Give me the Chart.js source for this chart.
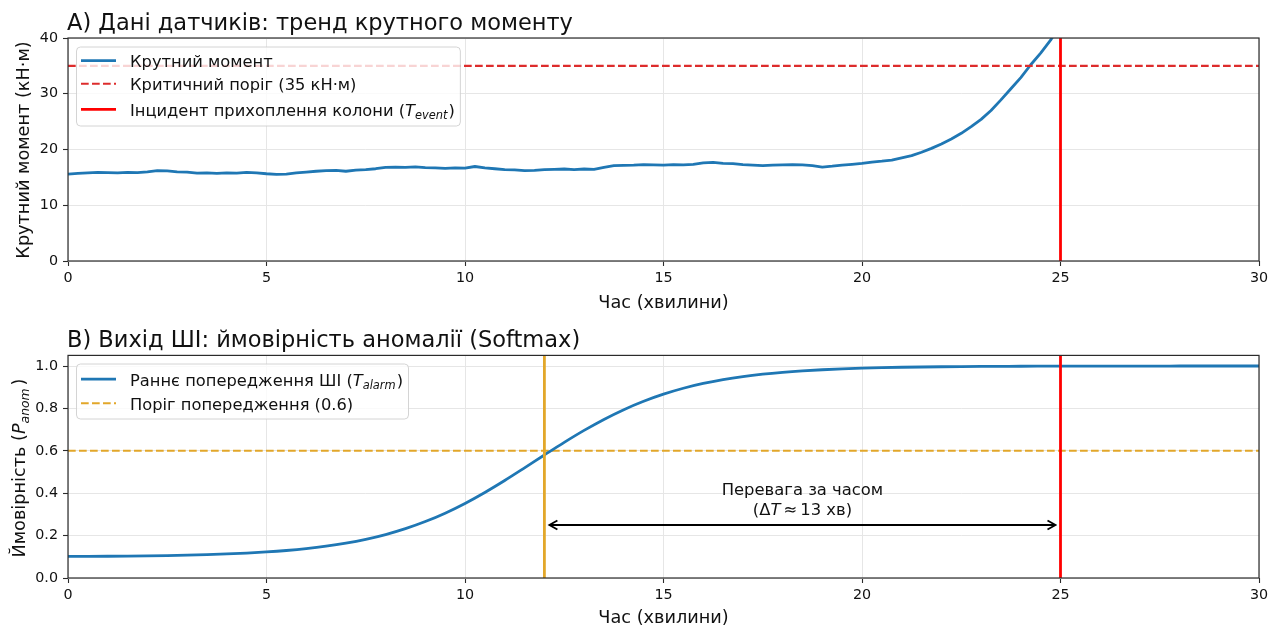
<!DOCTYPE html>
<html lang="uk">
<head>
<meta charset="utf-8">
<title>Крутний момент і ймовірність аномалії</title>
<script src="https://cdn.jsdelivr.net/npm/chart.js@4.4.1/dist/chart.umd.min.js"></script>
<style>
  html, body { margin: 0; padding: 0; background: #fff; }
  #page { position: relative; width: 1281px; height: 628px; overflow: hidden; background: #fff; }
  #page canvas { position: absolute; left: 0; }
</style>
</head>
<body>
<div id="page">
  <canvas id="torqueChart" width="1281" height="314" style="top:0"></canvas>
  <canvas id="probChart" width="1281" height="314" style="top:314px"></canvas>
</div>
<script>
// ---------- data ----------
const torqueTime = [
  0, 0.25, 0.5, 0.75, 1, 1.25, 1.5, 1.75, 2, 2.25, 2.5, 2.75, 3, 3.25, 3.5, 3.75, 4, 4.25, 4.5, 4.75,
  5, 5.25, 5.5, 5.75, 6, 6.25, 6.5, 6.75, 7, 7.25, 7.5, 7.75, 8, 8.25, 8.5, 8.75, 9, 9.25, 9.5, 9.75,
  10, 10.25, 10.5, 10.75, 11, 11.25, 11.5, 11.75, 12, 12.25, 12.5, 12.75, 13, 13.25, 13.5, 13.75, 14, 14.25, 14.5, 14.75,
  15, 15.25, 15.5, 15.75, 16, 16.25, 16.5, 16.75, 17, 17.25, 17.5, 17.75, 18, 18.25, 18.5, 18.75, 19, 19.25, 19.5, 19.75,
  20, 20.25, 20.5, 20.75, 21, 21.25, 21.5, 21.75, 22, 22.25, 22.5, 22.75, 23, 23.25, 23.5, 23.75, 24, 24.25, 24.5, 24.75, 25
];
const torqueValues = [
  15.6, 15.7, 15.8, 15.9, 15.85, 15.8, 15.9, 15.85, 16.0, 16.2, 16.15, 16.0, 15.95, 15.75, 15.8, 15.7, 15.8, 15.75, 15.9, 15.8,
  15.65, 15.55, 15.6, 15.8, 15.95, 16.1, 16.2, 16.25, 16.1, 16.3, 16.4, 16.55, 16.8, 16.85, 16.8, 16.9, 16.75, 16.7, 16.6, 16.7,
  16.65, 16.95, 16.7, 16.55, 16.4, 16.35, 16.2, 16.25, 16.4, 16.45, 16.5, 16.4, 16.5, 16.45, 16.8, 17.1, 17.15, 17.2, 17.3, 17.25,
  17.2, 17.3, 17.25, 17.35, 17.6, 17.7, 17.5, 17.45, 17.3, 17.2, 17.1, 17.2, 17.25, 17.3, 17.25, 17.1, 16.85, 17.0, 17.2, 17.35,
  17.5, 17.75, 17.9, 18.1, 18.5, 18.9, 19.5, 20.2, 21.0, 21.9, 22.9, 24.1, 25.4, 27.0, 28.9, 30.9, 32.9, 35.2, 37.3, 39.6, 42.5
];
const probTime = [
  0, 0.5, 1, 1.5, 2, 2.5, 3, 3.5, 4, 4.5, 5, 5.5, 6, 6.5, 7, 7.5, 8, 8.5, 9, 9.5,
  10, 10.5, 11, 11.5, 12, 12.5, 13, 13.5, 14, 14.5, 15, 15.5, 16, 16.5, 17, 17.5, 18, 18.5, 19, 19.5,
  20, 20.5, 21, 21.5, 22, 22.5, 23, 23.5, 24, 24.5, 25, 25.5, 26, 26.5, 27, 27.5, 28, 28.5, 29, 29.5, 30
];
const probValues = [
  0.1016, 0.1021, 0.1027, 0.1035, 0.1046, 0.1060, 0.1079, 0.1103, 0.1135, 0.1176, 0.1229, 0.1298, 0.1386, 0.1499, 0.1643, 0.1824, 0.2049, 0.2327, 0.2662, 0.3059,
  0.3519, 0.4037, 0.4601, 0.5197, 0.5803, 0.6399, 0.6963, 0.7481, 0.7941, 0.8338, 0.8673, 0.8951, 0.9176, 0.9357, 0.9501, 0.9614, 0.9702, 0.9771, 0.9824, 0.9865,
  0.9897, 0.9921, 0.9940, 0.9954, 0.9965, 0.9973, 0.9979, 0.9984, 0.9988, 0.9991, 0.9993, 0.9995, 0.9996, 0.9997, 0.9998, 0.9998, 0.9999, 0.9999, 0.9999, 0.9999, 1.0
];
const timeTicks = [0, 5, 10, 15, 20, 25, 30];
const torqueTicks = [0, 10, 20, 30, 40];
const probTicks = [0, 0.2, 0.4, 0.6, 0.8, 1.0];
const timeRange = [0, 30];
const torqueRange = [0, 40];
const probRange = [0, 1.05];
const criticalTorque = 35;
const eventTime = 25;
const alarmTime = 12;
const alarmThreshold = 0.6;
const leadMinutes = eventTime - alarmTime;
const leadArrowY = 0.25;
const leadLabelAt = { x: 18.5, y: 0.37 };

// ---------- styling ----------
const FONT = '"DejaVu Sans", "Liberation Sans", Arial, sans-serif';
const BLUE = '#1f77b4';
const RED = '#ff0000';
const RED_DASH = '#dd2c2c';
const GOLD = '#e2a72a';
const GRID = '#e6e6e6';
const SPINE = '#2b2b2b';
const INK = '#111111';
const TITLE_SIZE = 22.5;
const LABEL_SIZE = 17.7;
const LEGEND_SIZE = 16.3;
const TICK_SIZE = 14.3;
const NOTE_SIZE = 16.4;

const xy = (xs, ys) => xs.map((x, i) => ({ x: x, y: ys[i] }));

function setFont(ctx, size, italic) {
  ctx.font = (italic ? 'italic ' : '') + size + 'px ' + FONT;
}
// text runs with optional italic / subscript pieces
function richWidth(ctx, parts, size) {
  let w = 0;
  for (const p of parts) {
    setFont(ctx, p.sub ? size * 0.7 : size, p.it);
    w += ctx.measureText(p.t).width + (p.padL || 0) + (p.padR || 0);
  }
  return w;
}
function drawRich(ctx, parts, x, baseline, size) {
  let cx = x;
  ctx.textAlign = 'left';
  ctx.textBaseline = 'alphabetic';
  for (const p of parts) {
    setFont(ctx, p.sub ? size * 0.7 : size, p.it);
    cx += p.padL || 0;
    ctx.fillText(p.t, cx, baseline + (p.sub ? size * 0.22 : 0));
    cx += ctx.measureText(p.t).width + (p.padR || 0);
  }
  return cx - x;
}

function xScale(boxHeight) {
  return {
    type: 'linear', position: 'bottom', min: timeRange[0], max: timeRange[1],
    afterBuildTicks: s => { s.ticks = timeTicks.map(v => ({ value: v })); },
    afterFit: s => { s.height = boxHeight; },
    grid: { color: GRID, lineWidth: 1, drawTicks: true, tickLength: 5, tickColor: SPINE, tickWidth: 1.1 },
    border: { display: false },
    ticks: { color: INK, padding: 4, maxRotation: 0, autoSkip: false, font: { family: FONT, size: TICK_SIZE }, callback: v => String(v) }
  };
}
function yScale(range, tickValues, fmt) {
  return {
    type: 'linear', position: 'left', min: range[0], max: range[1],
    afterBuildTicks: s => { s.ticks = tickValues.map(v => ({ value: v })); },
    afterFit: s => { s.width = 68; },
    grid: { color: GRID, lineWidth: 1, drawTicks: true, tickLength: 5, tickColor: SPINE, tickWidth: 1.1 },
    border: { display: false },
    ticks: { color: INK, padding: 5, autoSkip: false, font: { family: FONT, size: TICK_SIZE }, callback: fmt }
  };
}

function drawLegend(chart, lg) {
  const ctx = chart.ctx;
  let maxW = 0;
  lg.items.forEach(it => { maxW = Math.max(maxW, richWidth(ctx, it.parts, LEGEND_SIZE)); });
  const w = lg.textX + maxW + 5.5 - lg.x;
  ctx.beginPath();
  ctx.roundRect(lg.x, lg.y, w, lg.h, 4);
  ctx.fillStyle = 'rgba(255,255,255,0.8)';
  ctx.fill();
  ctx.strokeStyle = 'rgba(204,204,204,0.85)';
  ctx.lineWidth = 1;
  ctx.stroke();
  lg.items.forEach((it, i) => {
    const ds = chart.data.datasets[it.dataset];
    const y = lg.rows[i];
    ctx.beginPath();
    ctx.setLineDash(ds.borderDash || []);
    ctx.strokeStyle = ds.borderColor;
    ctx.lineWidth = ds.borderWidth;
    ctx.moveTo(lg.handleX0, y);
    ctx.lineTo(lg.handleX1, y);
    ctx.stroke();
    ctx.setLineDash([]);
    ctx.fillStyle = INK;
    drawRich(ctx, it.parts, lg.textX, y + 6.5, LEGEND_SIZE);
  });
}

function panelDecor(opts) {
  return {
    id: 'panelDecor',
    afterDraw(chart) {
      const ctx = chart.ctx;
      const a = chart.chartArea;
      ctx.save();
      if (opts.annotate) opts.annotate(chart);
      // frame
      ctx.strokeStyle = SPINE;
      ctx.lineWidth = 1.2;
      ctx.strokeRect(a.left, a.top, a.right - a.left, a.bottom - a.top);
      ctx.fillStyle = INK;
      // panel title
      drawRich(ctx, opts.title, a.left - 1, a.top - 8.3, TITLE_SIZE);
      // x axis title
      const xw = richWidth(ctx, opts.xLabel, LABEL_SIZE);
      drawRich(ctx, opts.xLabel, (a.left + a.right) / 2 - xw / 2, opts.xLabelBaseline, LABEL_SIZE);
      // y axis title
      const yw = richWidth(ctx, opts.yLabel, LABEL_SIZE);
      ctx.save();
      ctx.translate(opts.yLabelX, opts.yLabelCenter);
      ctx.rotate(-Math.PI / 2);
      drawRich(ctx, opts.yLabel, -yw / 2, 6.4, LABEL_SIZE);
      ctx.restore();
      drawLegend(chart, opts.legend);
      ctx.restore();
    }
  };
}

const baseOptions = (padTop, xBox, yRange, yTicks, yFmt) => ({
  responsive: false,
  animation: false,
  devicePixelRatio: 1,
  events: [],
  layout: { padding: { left: 0, right: 22, top: padTop, bottom: 0 } },
  plugins: { legend: { display: false }, tooltip: { enabled: false }, title: { display: false } },
  elements: { point: { radius: 0 }, line: { borderCapStyle: 'butt', borderJoinStyle: 'round' } },
  scales: { x: xScale(xBox), y: yScale(yRange, yTicks, yFmt) }
});

// ---------- A) torque trend ----------
new Chart(document.getElementById('torqueChart'), {
  type: 'line',
  data: {
    datasets: [
      { label: 'Крутний момент', data: xy(torqueTime, torqueValues), borderColor: BLUE, borderWidth: 2.8, tension: 0, order: 3, clip: 0 },
      { label: 'Критичний поріг (' + criticalTorque + ' кН·м)', data: xy(timeRange, [criticalTorque, criticalTorque]), borderColor: RED_DASH, borderWidth: 2.1, borderDash: [7.7, 3.3], order: 2, clip: 0 },
      { label: 'Інцидент прихоплення колони', data: xy([eventTime, eventTime], torqueRange), borderColor: RED, borderWidth: 2.8, order: 1, clip: 0 }
    ]
  },
  options: baseOptions(38, 53, torqueRange, torqueTicks, v => String(v)),
  plugins: [panelDecor({
    title: [{ t: 'A) Дані датчиків: тренд крутного моменту' }],
    xLabel: [{ t: 'Час (хвилини)' }],
    xLabelBaseline: 308.2,
    yLabel: [{ t: 'Крутний момент (кН·м)' }],
    yLabelX: 22.5,
    yLabelCenter: 150,
    legend: {
      x: 76.5, y: 47, h: 79, handleX0: 81, handleX1: 116, textX: 130,
      rows: [60.7, 83.7, 109.3],
      items: [
        { dataset: 0, parts: [{ t: 'Крутний момент' }] },
        { dataset: 1, parts: [{ t: 'Критичний поріг (' + criticalTorque + ' кН·м)' }] },
        { dataset: 2, parts: [{ t: 'Інцидент прихоплення колони (' }, { t: 'T', it: true }, { t: 'event', it: true, sub: true }, { t: ')', padL: 1 }] }
      ]
    }
  })]
});

// ---------- B) model output ----------
new Chart(document.getElementById('probChart'), {
  type: 'line',
  data: {
    datasets: [
      { label: 'Раннє попередження ШІ', data: xy(probTime, probValues), borderColor: BLUE, borderWidth: 2.8, cubicInterpolationMode: 'monotone', order: 2, clip: 0 },
      { label: 'Поріг попередження (' + alarmThreshold + ')', data: xy(timeRange, [alarmThreshold, alarmThreshold]), borderColor: GOLD, borderWidth: 2.1, borderDash: [7.7, 3.3], order: 3, clip: 0 },
      { label: 'Сигнал ШІ', data: xy([alarmTime, alarmTime], probRange), borderColor: GOLD, borderWidth: 2.8, order: 1, clip: 0 },
      { label: 'Інцидент', data: xy([eventTime, eventTime], probRange), borderColor: RED, borderWidth: 2.8, order: 1, clip: 0 }
    ]
  },
  options: baseOptions(41.4, 50, probRange, probTicks, v => Number(v).toFixed(1)),
  plugins: [panelDecor({
    title: [{ t: 'B) Вихід ШІ: ймовірність аномалії (Softmax)' }],
    xLabel: [{ t: 'Час (хвилини)' }],
    xLabelBaseline: 309,
    yLabel: [{ t: 'Ймовірність (' }, { t: 'P', it: true }, { t: 'anom', it: true, sub: true, padR: 3 }, { t: ')' }],
    yLabelX: 19,
    yLabelCenter: 154,
    legend: {
      x: 76.5, y: 50, h: 55, handleX0: 81, handleX1: 116, textX: 130,
      rows: [65.2, 89.3],
      items: [
        { dataset: 0, parts: [{ t: 'Раннє попередження ШІ (' }, { t: 'T', it: true }, { t: 'alarm', it: true, sub: true }, { t: ')', padL: 1 }] },
        { dataset: 1, parts: [{ t: 'Поріг попередження (' + alarmThreshold + ')' }] }
      ]
    },
    annotate(chart) {
      const ctx = chart.ctx;
      const sx = chart.scales.x, sy = chart.scales.y;
      const x0 = sx.getPixelForValue(alarmTime) + 5;
      const x1 = sx.getPixelForValue(eventTime) - 5;
      const yy = sy.getPixelForValue(leadArrowY);
      ctx.strokeStyle = '#000';
      ctx.lineWidth = 1.8;
      ctx.lineJoin = 'miter';
      ctx.beginPath();
      ctx.moveTo(x0, yy); ctx.lineTo(x1, yy);
      ctx.moveTo(x0 + 8, yy - 4.5); ctx.lineTo(x0, yy); ctx.lineTo(x0 + 8, yy + 4.5);
      ctx.moveTo(x1 - 8, yy - 4.5); ctx.lineTo(x1, yy); ctx.lineTo(x1 - 8, yy + 4.5);
      ctx.stroke();
      const cx = sx.getPixelForValue(leadLabelAt.x);
      const cy = sy.getPixelForValue(leadLabelAt.y);
      ctx.fillStyle = INK;
      const line1 = [{ t: 'Перевага за часом' }];
      const line2 = [{ t: '(' }, { t: 'Δ' }, { t: 'T', it: true }, { t: '≈', padL: 3, padR: 3 }, { t: String(leadMinutes) + ' хв)' }];
      drawRich(ctx, line1, cx - richWidth(ctx, line1, NOTE_SIZE) / 2, cy - 4.2, NOTE_SIZE);
      drawRich(ctx, line2, cx - richWidth(ctx, line2, NOTE_SIZE) / 2, cy + 15.3, NOTE_SIZE);
    }
  })]
});
</script>
</body>
</html>
